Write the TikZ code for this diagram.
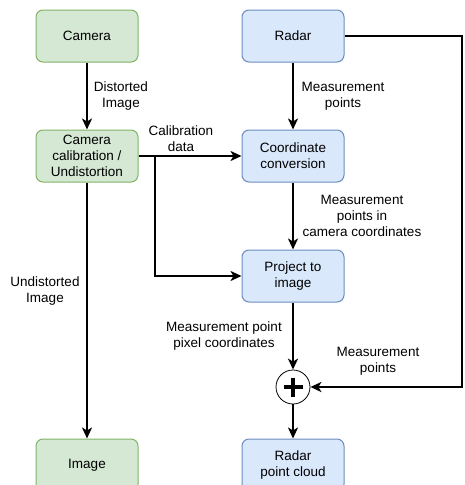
\documentclass[tikz,border=0pt]{standalone}
\usepackage{fontspec}
\setmainfont{Liberation Sans}
\usetikzlibrary{arrows.meta,calc}
\definecolor{gfill}{HTML}{D5E8D4}
\definecolor{gdraw}{HTML}{82B366}
\definecolor{bfill}{HTML}{DAE8FC}
\definecolor{bdraw}{HTML}{6C8EBF}
\tikzset{
  box/.style={rounded corners=7pt, minimum width=102pt, minimum height=52pt, inner sep=0pt, align=center, line width=1pt},
  gbox/.style={box, fill=gfill, draw=gdraw},
  bbox/.style={box, fill=bfill, draw=bdraw},
  conn/.style={line width=2.2pt, -{Stealth[length=11pt,width=10pt,inset=3pt]}},
  lbl/.style={align=center, inner sep=0pt},
}
\begin{document}
\begin{tikzpicture}[x=1pt,y=-1pt,font=\fontsize{13.5}{16}\selectfont]
\useasboundingbox (0,0) rectangle (464,485);
\clip (0,0) rectangle (464,485);
\fill[white] (0,0) rectangle (464,485);
% nodes
\node[gbox] (camera) at (87,36) {Camera};
\node[gbox] (calib) at (87,156) {Camera\\calibration /\\Undistortion};
\node[gbox] (image) at (87,465) {Image};
\node[bbox] (radar) at (293,36) {Radar};
\node[bbox] (conv) at (293,156) {Coordinate\\conversion};
\node[bbox] (proj) at (293,276) {Project to\\image};
\node[bbox] (cloud) at (293,465) {Radar\\point cloud};
\node[circle, draw=black, fill=white, line width=0.8pt, minimum size=34pt, inner sep=0pt] (plus) at (293,387) {};
\draw[line width=3.8pt] ($(plus)+(-9.5,0)$) -- ($(plus)+(9.5,0)$);
\draw[line width=3.8pt] ($(plus)+(0,-9.5)$) -- ($(plus)+(0,9.5)$);
% helper coordinates
\coordinate (branch) at (155,156);
\coordinate (rtop) at (462,36);
\coordinate (rbot) at (462,387);
% connectors
\draw[conn] (camera) -- (calib);
\draw[conn] (calib) -- (conv);
\draw[conn] (branch) |- (proj.west);
\draw[conn] (calib) -- (image);
\draw[conn] (radar) -- (conv);
\draw[conn] (conv) -- (proj);
\draw[conn] (proj) -- (plus);
\draw[conn] (plus) -- (cloud);
\draw[conn] (radar.east) -- (rtop) -- (rbot) -- (plus.east);
% labels
\node[lbl] (l1) at (121,96) {Distorted\\Image};
\node[lbl] (l2) at (181,139) {Calibration\\data};
\node[lbl] (l3) at (343,96) {Measurement\\points};
\node[lbl] (l4) at (362,216) {Measurement\\points in\\camera coordinates};
\node[lbl] (l5) at (45,291) {Undistorted\\Image};
\node[lbl] (l6) at (224,336) {Measurement point\\pixel coordinates};
\node[lbl] (l7) at (378,361) {Measurement\\points};
\end{tikzpicture}
\end{document}
